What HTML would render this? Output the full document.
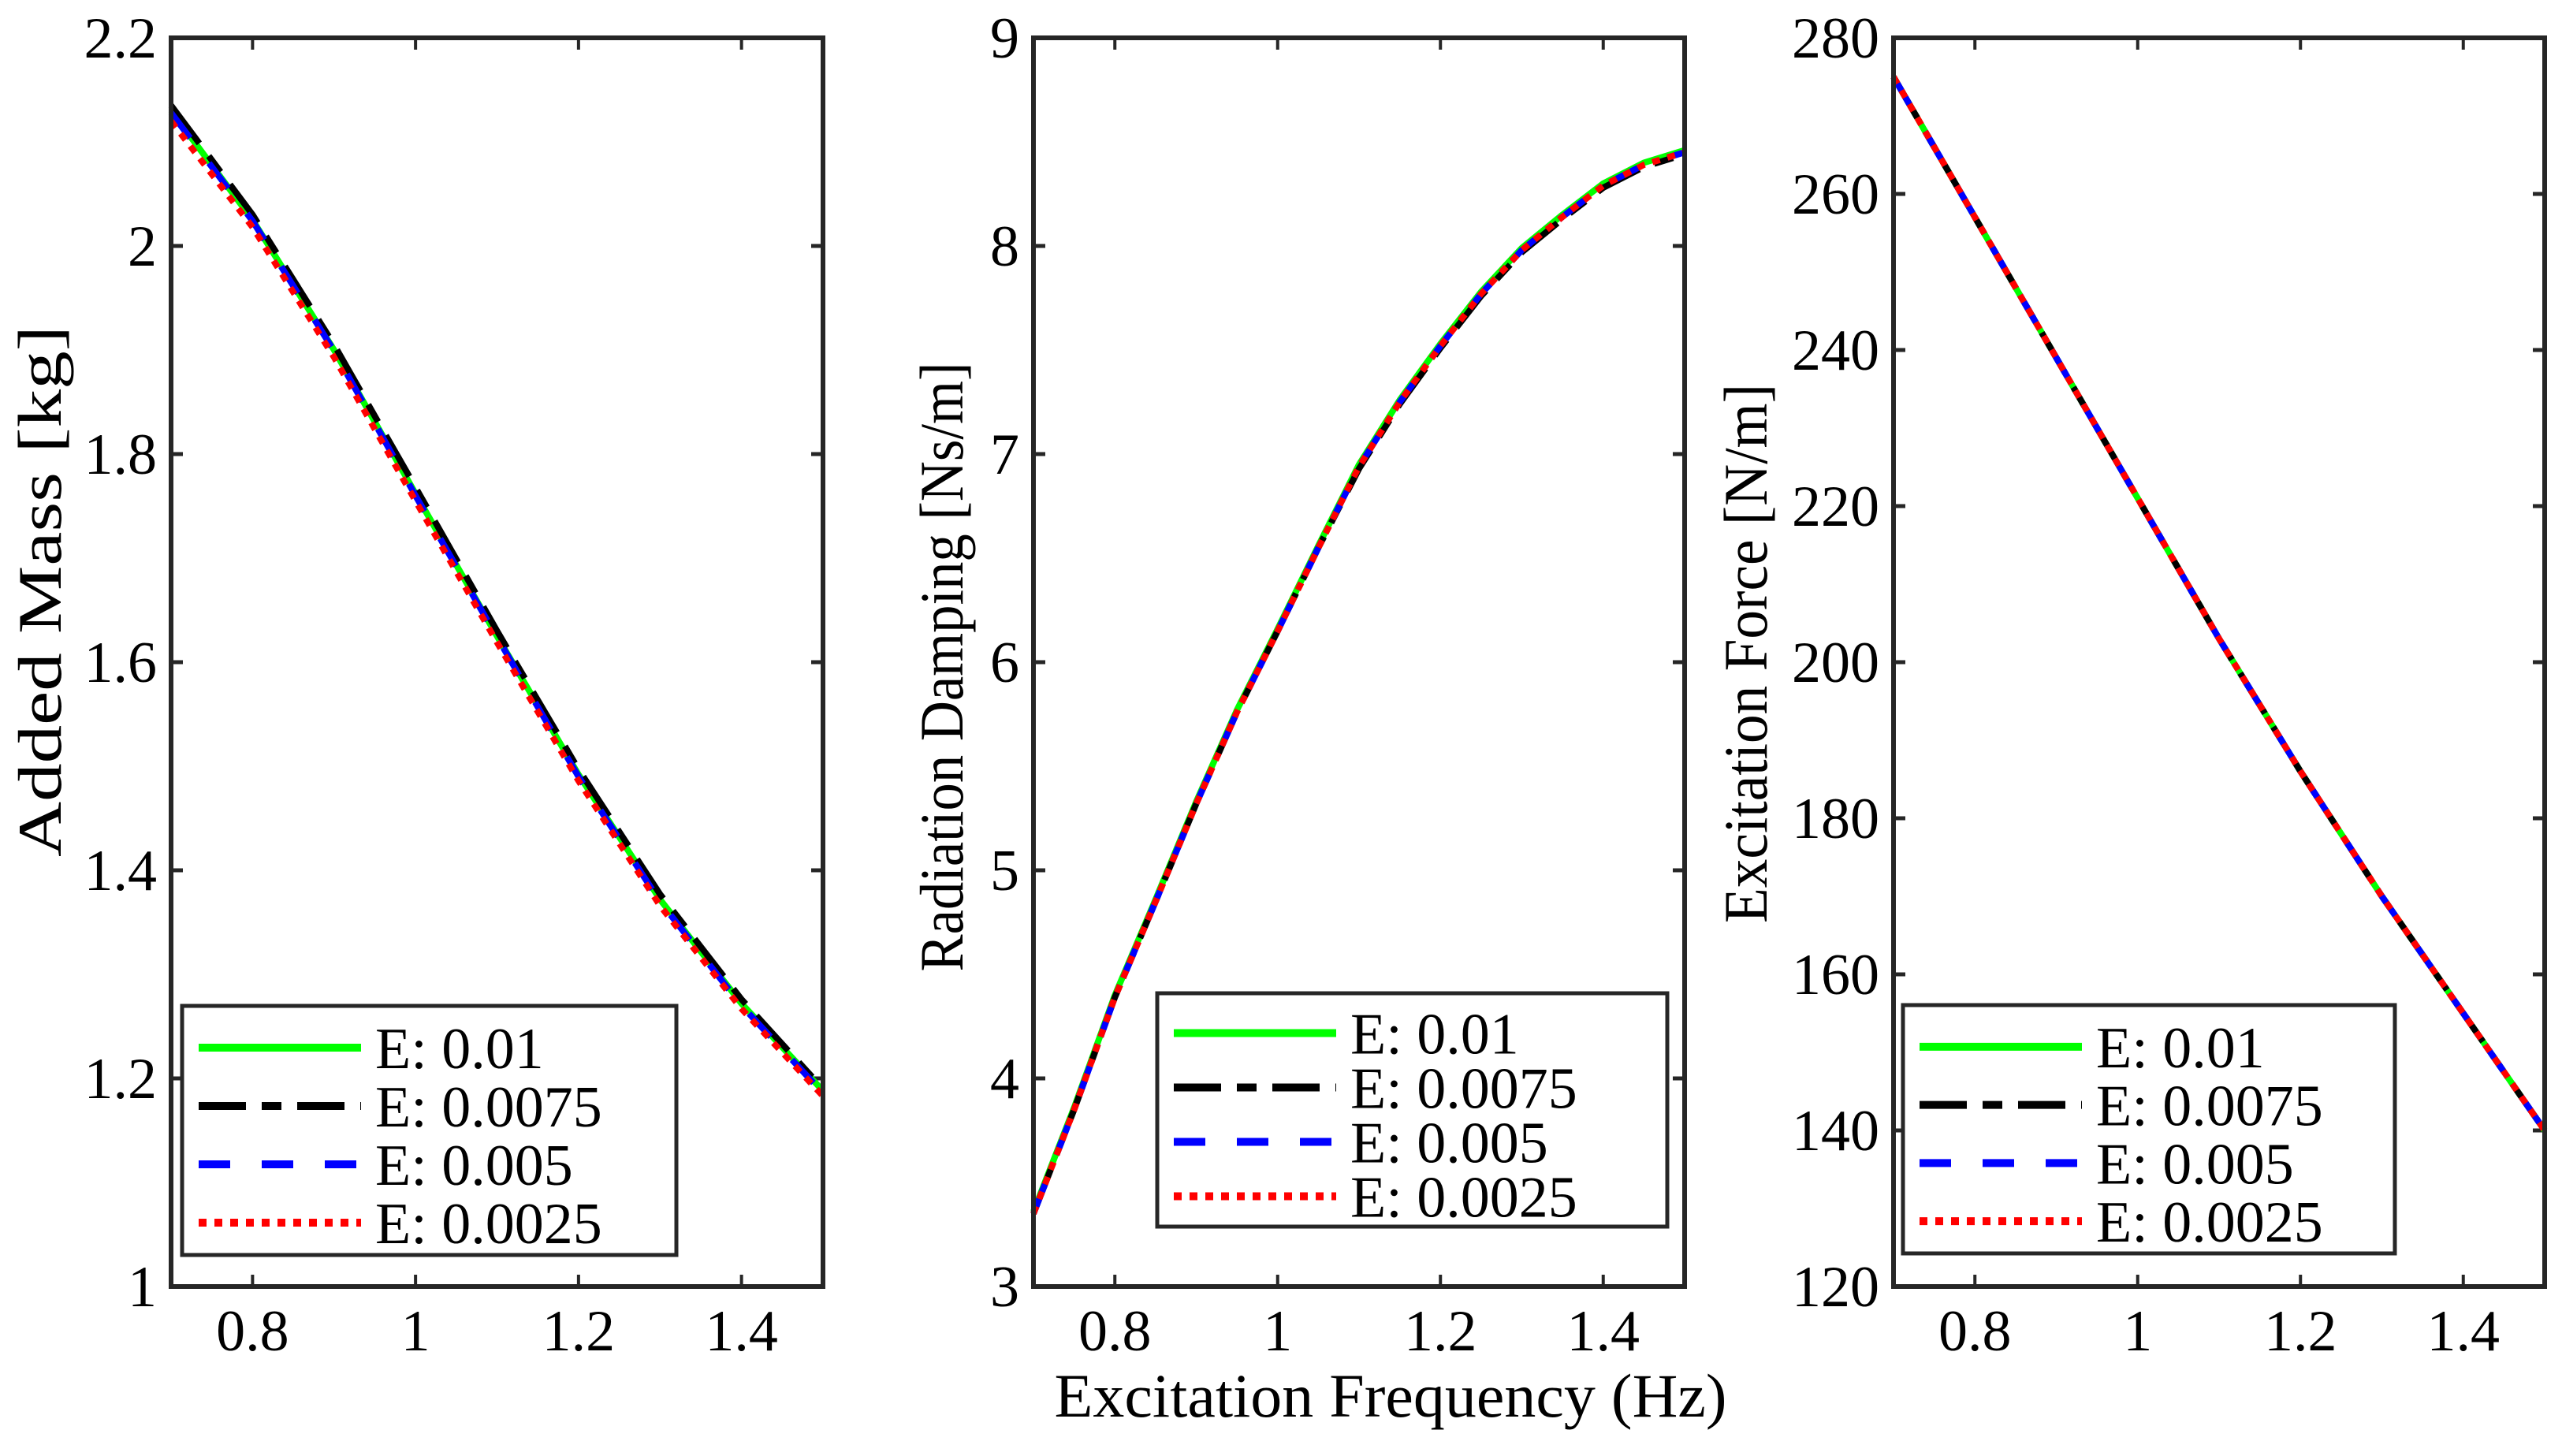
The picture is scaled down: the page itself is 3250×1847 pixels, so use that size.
<!DOCTYPE html>
<html><head><meta charset="utf-8"><style>
html,body{margin:0;padding:0;background:#fff;}
svg{display:block;font-family:"Liberation Serif",serif;}
</style></head><body>
<svg id="chart" width="3250" height="1847" viewBox="0 0 3250 1847" xmlns="http://www.w3.org/2000/svg"></svg>
<script>
const freqs = [0.7,0.8,0.9,1.0,1.1,1.2,1.3,1.4,1.5];
const freqsFine = [0.7,0.75,0.8,0.85,0.9,0.95,1.0,1.05,1.1,1.15,1.2,1.25,1.3,1.35,1.4,1.45,1.5];
const seriesNames = ["E: 0.01","E: 0.0075","E: 0.005","E: 0.0025"];
const massE010 = [2.13,2.025,1.900,1.762,1.625,1.492,1.372,1.272,1.188];
const massE0075 = [2.135,2.030,1.905,1.768,1.630,1.497,1.377,1.276,1.190];
const massE005 = [2.128,2.024,1.899,1.760,1.624,1.490,1.370,1.270,1.186];
const massE0025 = [2.12,2.018,1.893,1.755,1.619,1.486,1.366,1.267,1.183];
const dampE010 = [3.36,3.86,4.40,4.86,5.33,5.77,6.16,6.56,6.95,7.26,7.53,7.78,7.99,8.15,8.30,8.40,8.46];
const dampE0075 = [3.35,3.85,4.39,4.85,5.32,5.76,6.15,6.55,6.93,7.24,7.51,7.76,7.97,8.13,8.28,8.38,8.44];
const dampE005 = [3.35,3.85,4.39,4.85,5.32,5.76,6.15,6.55,6.94,7.25,7.52,7.77,7.98,8.14,8.29,8.39,8.45];
const dampE0025 = [3.35,3.85,4.39,4.85,5.32,5.76,6.15,6.55,6.94,7.25,7.52,7.77,7.98,8.14,8.29,8.39,8.45];
const forceE010 = [275,257,239,221,203,186,170,155,140];
const forceE0075 = [275,257,239,221,203,186,170,155,140];
const forceE005 = [275,257,239,221,203,186,170,155,140];
const forceE0025 = [275,257,239,221,203,186,170,155,140];
const xTicks = [0.8,1,1.2,1.4];
const massTicks = [1,1.2,1.4,1.6,1.8,2,2.2];
const dampTicks = [3,4,5,6,7,8,9];
const forceTicks = [120,140,160,180,200,220,240,260,280];

const NS="http://www.w3.org/2000/svg";
const svg=document.getElementById('chart');
function mk(tag,attrs,parent){const e=document.createElementNS(NS,tag);for(const k in attrs)e.setAttribute(k,attrs[k]);(parent||svg).appendChild(e);return e;}
const styles=[
 {stroke:"#00ff00",dash:""},
 {stroke:"#000000",dash:"60 20 25 20"},
 {stroke:"#0000ff",dash:"40 40"},
 {stroke:"#ff0000",dash:"10 10"}];
const plotTop=48,plotBot=1632;
const panels=[
 {name:"added-mass",left:217,right:1044,ymin:1,ymax:2.2,ticks:massTicks,xv:freqs,series:[massE010,massE0075,massE005,massE0025],ylabel:"Added Mass [kg]",ylx:52,ylc:750,yll:674,leg:{x:231,y:1276,w:627,h:316}},
 {name:"radiation-damping",left:1311,right:2137,ymin:3,ymax:9,ticks:dampTicks,xv:freqsFine,series:[dampE010,dampE0075,dampE005,dampE0025],ylabel:"Radiation Damping [Ns/m]",ylx:1196,ylc:846,yll:773,leg:{x:1468,y:1260,w:647,h:296}},
 {name:"excitation-force",left:2402,right:3228,ymin:120,ymax:280,ticks:forceTicks,xv:freqs,series:[forceE010,forceE0075,forceE005,forceE0025],ylabel:"Excitation Force [N/m]",ylx:2216,ylc:829,yll:684,leg:{x:2414,y:1275,w:624,h:315}}
];
panels.forEach(p=>{
  const g=mk('g',{});
  
  
  const xs=v=>p.left+(v-0.7)/(0.8)*(p.right-p.left);
  const ys=v=>plotBot-(v-p.ymin)/(p.ymax-p.ymin)*(plotBot-plotTop);
  xTicks.forEach(t=>{
    const x=xs(t);
    mk('line',{x1:x,x2:x,y1:plotBot,y2:plotBot-15,stroke:"#262626","stroke-width":4},g);
    mk('line',{x1:x,x2:x,y1:plotTop,y2:plotTop+15,stroke:"#262626","stroke-width":4},g);
    const tl=mk('text',{x:x,y:1713,"font-size":74,"text-anchor":"middle",fill:"#000"},g);
    tl.textContent=String(t);
    
    
  });
  p.ticks.forEach(t=>{
    const y=ys(t);
    mk('line',{x1:p.left,x2:p.left+15,y1:y,y2:y,stroke:"#262626","stroke-width":5},g);
    mk('line',{x1:p.right,x2:p.right-15,y1:y,y2:y,stroke:"#262626","stroke-width":5},g);
    const tl=mk('text',{x:p.left-18,y:y+25,"font-size":74,"text-anchor":"end",fill:"#000"},g);
    tl.textContent=String(t);
    
    
  });
  p.series.forEach((arr,i)=>{
    const d=arr.map((v,j)=>(j?'L':'M')+xs(p.xv[j]).toFixed(1)+' '+ys(v).toFixed(1)).join(' ');
    const path=mk('path',{d:d,fill:"none",stroke:styles[i].stroke,"stroke-width":8,"stroke-linejoin":"round","stroke-dasharray":styles[i].dash||"none"},g);
    
    
  });
  const box=mk('rect',{x:p.left,y:plotTop,width:p.right-p.left,height:plotBot-plotTop,fill:"none",stroke:"#262626","stroke-width":6},g);
  
  
  const cy=p.ylc;
  const yl=mk('text',{x:p.ylx,y:cy,"font-size":78,"text-anchor":"middle",fill:"#000",textLength:p.yll,lengthAdjust:"spacingAndGlyphs",transform:`rotate(-90 ${p.ylx} ${cy})`,dy:"25"},g);
  yl.textContent=p.ylabel;
  
  
  const L=p.leg;
  const lg=mk('g',{},g);
  
  
  mk('rect',{x:L.x,y:L.y,width:L.w,height:L.h,fill:"#fff",stroke:"#262626","stroke-width":5},lg);
  const rowH=(L.h-20)/4;
  seriesNames.forEach((n,i)=>{
    const ry=L.y+10+rowH*(i+0.5)+6;
    const le=mk('g',{},lg);
    
    
    mk('line',{x1:L.x+21,x2:L.x+227,y1:ry,y2:ry,stroke:styles[i].stroke,"stroke-width":10,"stroke-dasharray":styles[i].dash||"none"},le);
    const t=mk('text',{x:L.x+245,y:ry+26,"font-size":74,fill:"#000"},le);
    t.textContent=n;
  });
});
const xt=mk('text',{x:1764,y:1797,"font-size":78,"text-anchor":"middle",fill:"#000",textLength:853,lengthAdjust:"spacingAndGlyphs"});
xt.textContent="Excitation Frequency (Hz)";


</script>
</body></html>
